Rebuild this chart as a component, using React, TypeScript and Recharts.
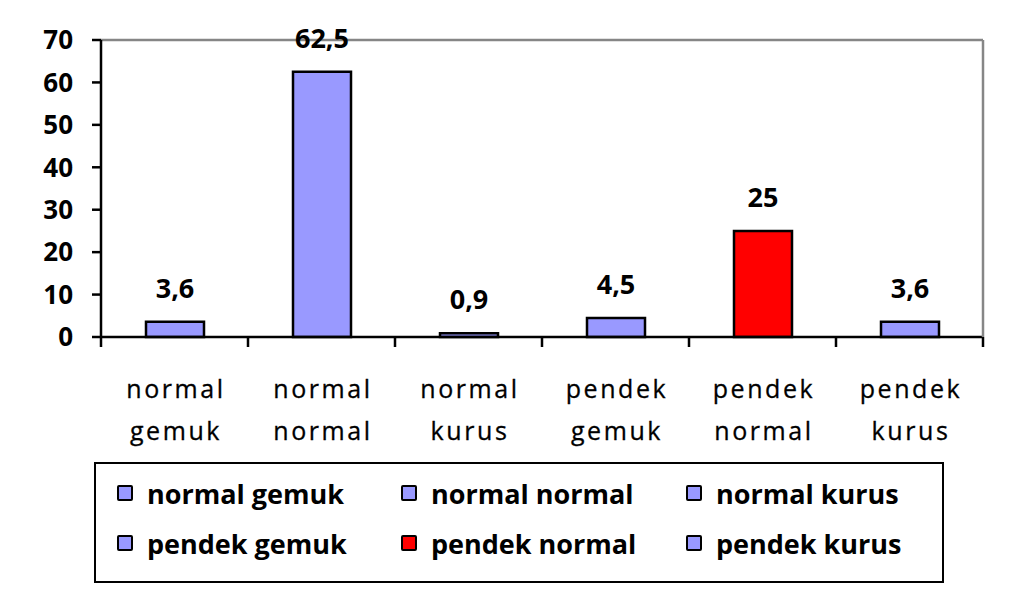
import React from "react";
import {
  BarChart,
  Bar,
  XAxis,
  YAxis,
  Cell,
  LabelList,
} from "recharts";

const categories = [
  "normal gemuk",
  "normal normal",
  "normal kurus",
  "pendek gemuk",
  "pendek normal",
  "pendek kurus",
];
const values = [3.6, 62.5, 0.9, 4.5, 25, 3.6];
const barColors = ["#9999FF", "#9999FF", "#9999FF", "#9999FF", "#FF0000", "#9999FF"];
const yTicks = [0, 10, 20, 30, 40, 50, 60, 70];

const data = categories.map((name, i) => ({ name, value: values[i] }));

const W = 1016;
const H = 589;
const LEFT = 101;
const RIGHT = 33;
const band = (W - LEFT - RIGHT) / categories.length;

const font = "'Open Sans', sans-serif";

function CategoryTick(props: any) {
  const { x, y, payload, index } = props;
  const lines = String(payload.value).split(" ");
  return (
    <g>
      <line x1={x - band / 2} y1={y} x2={x - band / 2} y2={y + 10} stroke="#000" strokeWidth={2.5} />
      {index === categories.length - 1 && (
        <line x1={x + band / 2} y1={y} x2={x + band / 2} y2={y + 10} stroke="#000" strokeWidth={2.5} />
      )}
      {lines.map((t, i) => (
        <text
          key={i}
          x={x + 1.5}
          y={y + 61 + i * 42}
          textAnchor="middle"
          fontFamily={font}
          fontSize={25}
          letterSpacing={2.6}
          stroke="#000"
          strokeWidth={0.3}
          fill="#000"
        >
          {t}
        </text>
      ))}
    </g>
  );
}

const fmt = (v: any) => String(v).replace(".", ",");

export default function App() {
  return (
    <div style={{ position: "absolute", left: 0, top: 0, width: W, height: H, background: "#fff" }}>
      <BarChart
        width={W}
        height={H}
        data={data}
        margin={{ top: 39, right: 0, bottom: 132, left: 0 }}
        barSize={58}
      >
        <XAxis
          dataKey="name"
          height={120}
          interval={0}
          tickSize={0}
          tickMargin={0}
          tickLine={false}
          axisLine={{ stroke: "#000", strokeWidth: 2.5 }}
          tick={<CategoryTick />}
        />
        <XAxis
          xAxisId="top"
          dataKey="name"
          orientation="top"
          height={1}
          tick={false}
          tickLine={false}
          axisLine={{ stroke: "#868686", strokeWidth: 2.5 }}
        />
        <YAxis
          domain={[0, 70]}
          ticks={yTicks}
          interval={0}
          width={LEFT}
          tickSize={9}
          tickMargin={19}
          tickLine={{ stroke: "#000", strokeWidth: 2.5 }}
          axisLine={{ stroke: "#000", strokeWidth: 2.5 }}
          tick={{ fill: "#000", fontSize: 26, fontWeight: 700, fontFamily: font }}
        />
        <YAxis
          yAxisId="right"
          orientation="right"
          width={RIGHT}
          domain={[0, 70]}
          tick={false}
          tickLine={false}
          axisLine={{ stroke: "#868686", strokeWidth: 2.5 }}
        />
        <Bar dataKey="value" stroke="#000" strokeWidth={2.5} isAnimationActive={false}>
          {data.map((d, i) => (
            <Cell key={d.name} fill={barColors[i]} />
          ))}
          <LabelList
            dataKey="value"
            position="top"
            offset={24}
            formatter={fmt}
            style={{ fill: "#000", fontSize: 27, fontWeight: 700, fontFamily: font }}
          />
        </Bar>
      </BarChart>
      <div
        style={{
          position: "absolute",
          left: 94,
          top: 462,
          width: 850,
          height: 121,
          boxSizing: "border-box",
          border: "2.5px solid #000",
          display: "grid",
          gridTemplateColumns: "284px 285px 280px",
          gridTemplateRows: "50px 50px",
          paddingLeft: 21,
          paddingTop: 4,
          fontFamily: font,
          fontWeight: 700,
          fontSize: 27,
          color: "#000",
        }}
      >
        {categories.map((c, i) => (
          <div key={c} style={{ display: "flex", alignItems: "center", whiteSpace: "nowrap" }}>
            <span
              style={{
                display: "inline-block",
                width: 12,
                height: 12,
                border: "2px solid #000",
                borderRadius: 2,
                background: barColors[i],
                marginRight: 14,
              }}
            />
            <span>{c}</span>
          </div>
        ))}
      </div>
    </div>
  );
}
